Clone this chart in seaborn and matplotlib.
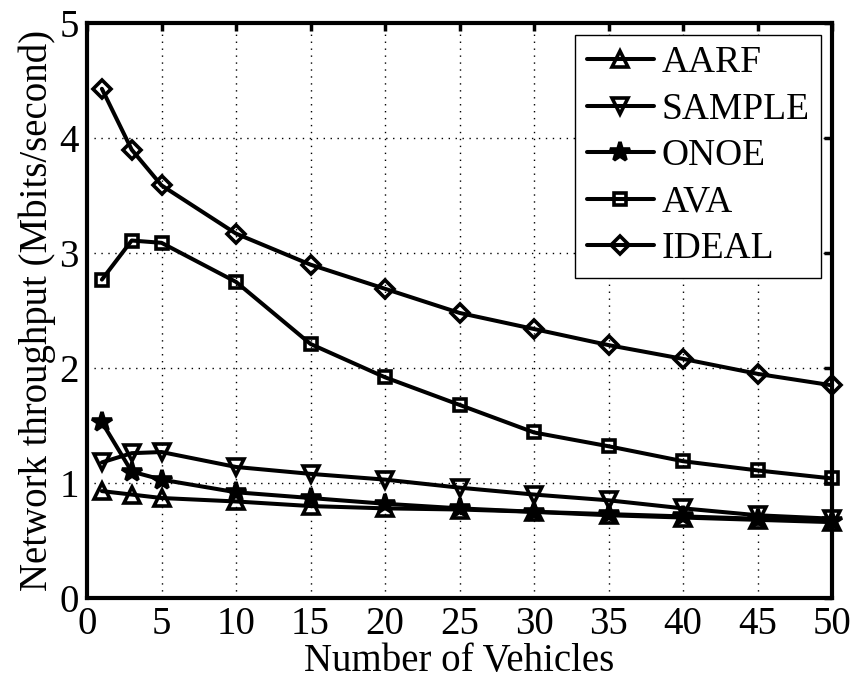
import numpy as np
import pandas as pd
import seaborn as sns
import matplotlib.pyplot as plt

# data
vehicles = [1, 3, 5, 10, 15, 20, 25, 30, 35, 40, 45, 50]
aarf = [0.93, 0.90, 0.87, 0.84, 0.80, 0.78, 0.77, 0.75, 0.72, 0.70, 0.68, 0.66]
sample = [1.18, 1.26, 1.27, 1.14, 1.08, 1.03, 0.96, 0.90, 0.85, 0.78, 0.72, 0.69]
onoe = [1.53, 1.10, 1.03, 0.92, 0.87, 0.82, 0.78, 0.75, 0.73, 0.71, 0.69, 0.67]
ava = [2.77, 3.11, 3.09, 2.75, 2.21, 1.92, 1.68, 1.44, 1.32, 1.19, 1.11, 1.04]
ideal = [4.43, 3.90, 3.59, 3.17, 2.90, 2.69, 2.48, 2.34, 2.20, 2.08, 1.95, 1.85]

methods = ["AARF", "SAMPLE", "ONOE", "AVA", "IDEAL"]
series = [aarf, sample, onoe, ava, ideal]

sns.set_theme(style="white")
plt.rcParams["font.family"] = ["Liberation Serif", "DejaVu Serif"]
plt.rcParams.update({"text.color": "black", "axes.labelcolor": "black",
                     "xtick.color": "black", "ytick.color": "black"})

df = pd.DataFrame({
    "vehicles": np.tile(vehicles, len(methods)),
    "throughput": np.concatenate(series),
    "method": np.repeat(methods, len(vehicles)),
})

# MATLAB-ish marker styles
styles = {
    "AARF": dict(marker="^", ms=11, mfc="none"),
    "SAMPLE": dict(marker="v", ms=11, mfc="none"),
    "ONOE": dict(marker="*", ms=15, mfc="black"),
    "AVA": dict(marker="s", ms=8, mfc="none"),
    "IDEAL": dict(marker="D", ms=9, mfc="none"),
}

fig = plt.figure(figsize=(8.57, 6.84), dpi=100)
ax = fig.add_axes([0.1015, 0.1257, 0.8695, 0.8403])

for m in methods:
    sub = df[df["method"] == m]
    st = styles[m]
    sns.lineplot(data=sub, x="vehicles", y="throughput", ax=ax, label=m,
                 color="black", lw=2.9, marker=st["marker"], ms=st["ms"],
                 mfc=st["mfc"], mec="black", mew=2.6, clip_on=False, zorder=3)

ax.set_xlim(0, 50)
ax.set_ylim(0, 5)
ax.set_xticks(range(0, 51, 5))
ax.set_yticks(range(0, 6))
ax.grid(True, ls=(0, (1, 4)), color="black", lw=1.0)
ax.tick_params(direction="in", length=6, width=2.5, labelsize=28,
               top=True, right=True, pad=6, colors="black")
for s in ax.spines.values():
    s.set_linewidth(3)
    s.set_color("black")
    s.set_zorder(4)

ax.set_xlabel("Number of Vehicles", fontsize=28, labelpad=0)
ax.set_ylabel("Network throughput (Mbits/second)", fontsize=28, labelpad=2)

leg = ax.legend(loc="upper right", fontsize=27, frameon=True, fancybox=False,
                handlelength=1.8, handletextpad=0.2, borderpad=0.3,
                labelspacing=0.32, borderaxespad=0.3, framealpha=1)
leg.get_frame().set_edgecolor("black")
leg.get_frame().set_linewidth(1.0)
leg.set_zorder(5)

fig.savefig("out.png", dpi=100)
